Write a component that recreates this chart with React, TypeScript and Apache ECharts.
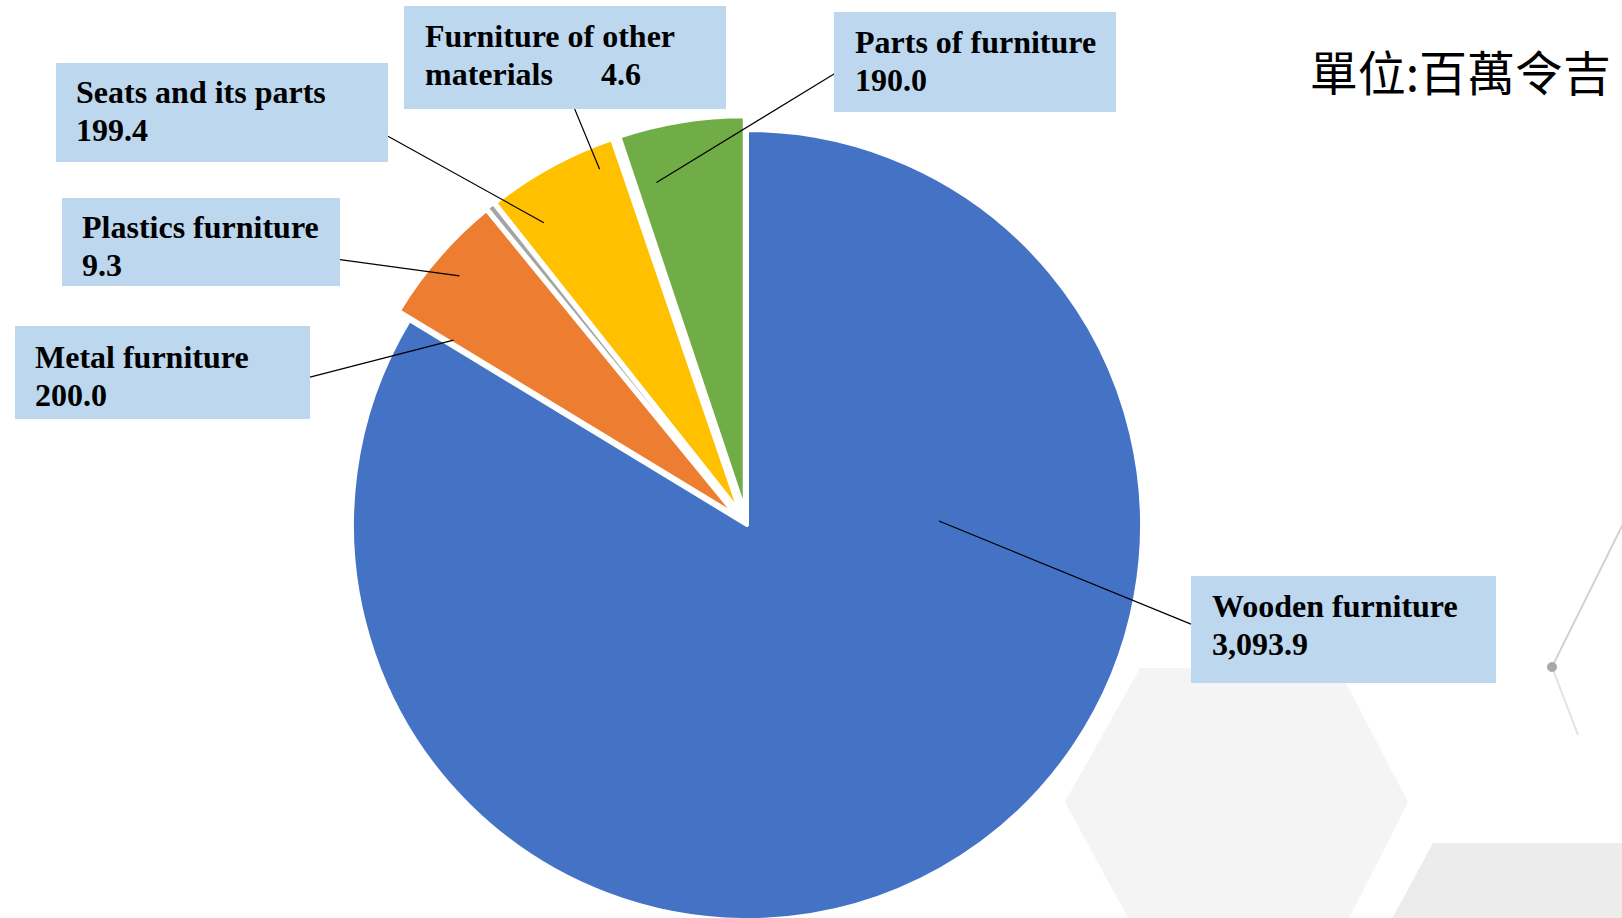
import React, { useEffect, useRef } from "react";
import * as echarts from "echarts";

// ---- data ----
const CATEGORIES = [
  "Wooden furniture",
  "Metal furniture",
  "Plastics furniture",
  "Seats and its parts",
  "Furniture of other materials",
  "Parts of furniture",
];
const VALUES = [3093.9, 200.0, 9.3, 199.4, 4.6, 190.0];
const LABEL_NAMES = [
  "Wooden furniture",
  "Metal furniture",
  "Plastics furniture",
  "Seats and its parts",
  "Furniture of other\nmaterials",
  "Parts of furniture",
];
const LABEL_SEPARATORS = ["\n", "\n", "\n", "\n", "\u00a0\u00a0\u00a0\u00a0\u00a0\u00a0", "\n"];
const COLORS = ["#4472C4", "#ED7D31", "#A5A5A5", "#FFC000", "#5B9BD5", "#70AD47"];
const UNIT_TEXT = "單位:百萬令吉";

// ---- layout (positions / styles only) ----
const CX = 747;
const CY = 525;
const R = 395;
// box: x, y, w, h, padTop, padLeft; anchor on box (ax, ay); leader start (angle deg, radius fraction)
const BOXES = [
  { x: 1191, y: 576, w: 305, h: 107, pt: 11, pl: 21, ax: 0, ay: 0.45, sa: 1.2, sr: 0.486 },
  { x: 15, y: 326, w: 295, h: 93, pt: 12, pl: 20, ax: 1, ay: 0.55, sa: 147.8, sr: 0.878 },
  { x: 62, y: 198, w: 278, h: 88, pt: 10, pl: 20, ax: 1, ay: 0.7, sa: 139.1, sr: 0.963 },
  { x: 56, y: 63, w: 332, h: 99, pt: 10, pl: 20, ax: 1, ay: 0.74, sa: 123.9, sr: 0.922 },
  { x: 404, y: 6, w: 322, h: 103, pt: 11, pl: 21, ax: 0.53, ay: 1, sa: 112.5, sr: 0.975 },
  { x: 834, y: 12, w: 282, h: 100, pt: 11, pl: 21, ax: 0, ay: 0.62, sa: 104.8, sr: 0.897 },
];
const BORDER_WIDTHS = [4, 4, 2, 4, 4, 4];

const fmt = (v: number) =>
  v.toLocaleString("en-US", { minimumFractionDigits: 1, maximumFractionDigits: 1 });

export default function App() {
  const ref = useRef<HTMLDivElement>(null);

  useEffect(() => {
    if (!ref.current) return;
    const chart = echarts.init(ref.current, null, { renderer: "svg" });

    const data = CATEGORIES.map((name, i) => ({
      name,
      value: VALUES[i],
      selected: i > 0,
      itemStyle: { color: COLORS[i], borderWidth: BORDER_WIDTHS[i] },
    }));

    const labelGraphics: any[] = [];
    CATEGORIES.forEach((_, i) => {
      const b = BOXES[i];
      const a = (b.sa * Math.PI) / 180;
      const sx = CX + Math.cos(a) * b.sr * R;
      const sy = CY - Math.sin(a) * b.sr * R;
      const ex = b.x + b.ax * b.w;
      const ey = b.y + b.ay * b.h;
      labelGraphics.push({
        type: "line",
        z: 90,
        silent: true,
        shape: { x1: sx, y1: sy, x2: ex, y2: ey },
        style: { stroke: "#000", lineWidth: 1.2 },
      });
      labelGraphics.push({
        type: "rect",
        z: 95,
        silent: true,
        shape: { x: b.x, y: b.y, width: b.w, height: b.h },
        style: { fill: "#BDD7EE" },
      });
      labelGraphics.push({
        type: "text",
        z: 100,
        silent: true,
        x: b.x + b.pl,
        y: b.y + b.pt,
        style: {
          text: LABEL_NAMES[i] + LABEL_SEPARATORS[i] + fmt(VALUES[i]),
          fill: "#000",
          fontFamily: "Liberation Serif",
          fontWeight: "bold",
          fontSize: 32,
          lineHeight: 38,
          align: "left",
          verticalAlign: "top",
        },
      });
    });

    const option: any = {
      animation: false,
      backgroundColor: "#ffffff",
      title: {
        text: UNIT_TEXT,
        right: 6,
        top: 41,
        textStyle: {
          fontSize: 48,
          fontWeight: "normal",
          fontFamily: "Noto Sans CJK TC",
          color: "#000",
        },
      },
      graphic: [
        {
          type: "polygon",
          z: -10,
          silent: true,
          shape: {
            points: [
              [1065, 802],
              [1140, 668],
              [1338, 668],
              [1408, 802],
              [1338, 940],
              [1140, 940],
            ],
          },
          style: { fill: "#f4f4f4" },
        },
        {
          type: "polygon",
          z: -10,
          silent: true,
          shape: {
            points: [
              [1433, 843],
              [1640, 843],
              [1640, 930],
              [1386, 930],
            ],
          },
          style: { fill: "#ececec" },
        },
        {
          type: "line",
          z: -10,
          silent: true,
          shape: { x1: 1625, y1: 520, x2: 1552, y2: 667 },
          style: { stroke: "#d2d2d2", lineWidth: 2 },
        },
        {
          type: "line",
          z: -10,
          silent: true,
          shape: { x1: 1552, y1: 667, x2: 1578, y2: 735 },
          style: { stroke: "#e2e2e2", lineWidth: 2 },
        },
        {
          type: "circle",
          z: -10,
          silent: true,
          shape: { cx: 1552, cy: 667, r: 5 },
          style: { fill: "#a8a8a8" },
        },
        ...labelGraphics,
      ],
      series: [
        {
          type: "pie",
          center: [CX, CY],
          radius: R,
          startAngle: 90,
          clockwise: true,
          selectedMode: "multiple",
          selectedOffset: 14,
          avoidLabelOverlap: false,
          itemStyle: { borderColor: "#ffffff", borderWidth: 4 },
          label: { show: false },
          labelLine: { show: false },
          data,
        },
      ],
    };

    chart.setOption(option);
    return () => chart.dispose();
  }, []);

  return (
    <div
      ref={ref}
      style={{ position: "absolute", left: 0, top: 0, width: 1622, height: 918 }}
    />
  );
}
